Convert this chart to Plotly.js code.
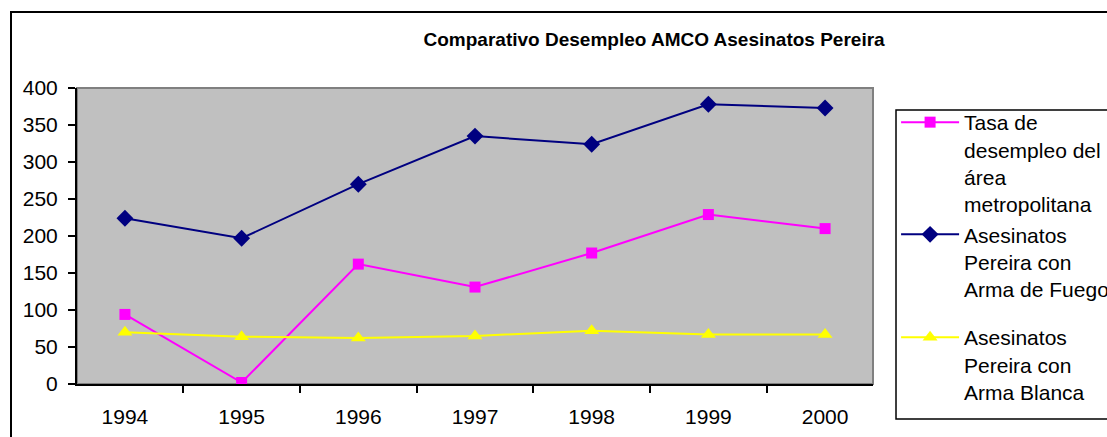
<!DOCTYPE html>
<html>
<head>
<meta charset="utf-8">
<script src="https://cdn.plot.ly/plotly-3.0.1.min.js"></script>
<style>
  html, body { margin: 0; padding: 0; background: #fff; overflow: hidden; }
  #wrap { position: relative; width: 1107px; height: 437px; }
  #chart { width: 1107px; height: 437px; }
  #frame { position: absolute; left: 10px; top: 11px; width: 1120px; height: 450px;
           border: 2px solid #000; pointer-events: none; box-sizing: border-box; }
</style>
</head>
<body>
<div id="wrap">
  <div id="chart"></div>
  <div id="frame"></div>
</div>
<script>
const years = ['1994', '1995', '1996', '1997', '1998', '1999', '2000'];
const tasaDesempleo = [94, 2, 162, 131, 177, 229, 210];
const armaFuego = [224, 197, 270, 335, 324, 378, 373];
const armaBlanca = [70, 64, 62, 65, 72, 67, 67];
const seriesNames = [
  'Tasa de<br>desempleo del<br>área<br>metropolitana',
  'Asesinatos<br>Pereira con<br>Arma de Fuego',
  'Asesinatos<br>Pereira con<br>Arma Blanca'
];
const chartTitle = 'Comparativo Desempleo AMCO Asesinatos Pereira';

const FONT = '"Liberation Sans", Arial, sans-serif';

const traces = [
  {
    x: years, y: tasaDesempleo, name: seriesNames[0], type: 'scatter', mode: 'lines+markers',
    legendgroup: 'a',
    line: { color: '#FF00FF', width: 2 },
    marker: { symbol: 'square', size: 11, color: '#FF00FF' }
  },
  {
    x: years, y: armaFuego, name: seriesNames[1], type: 'scatter', mode: 'lines+markers',
    legendgroup: 'a',
    line: { color: '#000080', width: 2 },
    marker: { symbol: 'diamond', size: 13, color: '#000080' }
  },
  {
    x: years, y: armaBlanca, name: seriesNames[2], type: 'scatter', mode: 'lines+markers',
    legendgroup: 'b',
    line: { color: '#FFFF00', width: 2 },
    marker: { symbol: 'triangle-up', size: 13, color: '#FFFF00' }
  }
];

const layout = {
  width: 1107, height: 437,
  margin: { l: 77, r: 234, t: 88, b: 53, autoexpand: false },
  paper_bgcolor: 'rgba(0,0,0,0)',
  plot_bgcolor: '#C0C0C0',
  font: { family: FONT, size: 21, color: '#000' },
  title: {
    text: chartTitle,
    font: { family: FONT, size: 19, color: '#000', weight: 'bold' },
    xref: 'paper', x: 0.725, xanchor: 'center',
    yref: 'container', y: 0.909, yanchor: 'middle'
  },
  xaxis: {
    type: 'category',
    tickson: 'boundaries',
    ticks: 'outside', ticklen: 7, tickwidth: 2, tickcolor: '#000',
    showline: true, linecolor: '#000', linewidth: 2,
    showgrid: false, zeroline: false,
    ticklabelstandoff: 13,
    tickfont: { family: FONT, size: 21, color: '#000' },
    fixedrange: true
  },
  yaxis: {
    range: [0, 400], dtick: 50, tick0: 0,
    ticks: 'outside', ticklen: 7, tickwidth: 2, tickcolor: '#000',
    showline: true, linecolor: '#000', linewidth: 2,
    showgrid: false, zeroline: false,
    ticklabelstandoff: 6,
    tickfont: { family: FONT, size: 21, color: '#000' },
    fixedrange: true
  },
  shapes: [
    {
      type: 'rect', xref: 'paper', yref: 'paper', x0: 0, x1: 1, y0: 0, y1: 1,
      line: { color: '#808080', width: 2 }, layer: 'below'
    },
    {
      type: 'rect', xref: 'paper', yref: 'paper',
      x0: 1.0289, x1: 1.4, y0: -0.1182, y1: 0.9257,
      line: { color: '#000', width: 1.5 }, fillcolor: '#FFFFFF', layer: 'above'
    }
  ],
  showlegend: true,
  legend: {
    x: 1.029, xanchor: 'left', y: 0.9527, yanchor: 'top',
    bgcolor: 'rgba(0,0,0,0)', borderwidth: 0,
    font: { family: FONT, size: 21, color: '#000' },
    valign: 'top', itemwidth: 58, tracegroupgap: 18,
    traceorder: 'grouped', maxheight: 420
  }
};

Plotly.newPlot('chart', traces, layout, { displayModeBar: false, staticPlot: true });
</script>
</body>
</html>
